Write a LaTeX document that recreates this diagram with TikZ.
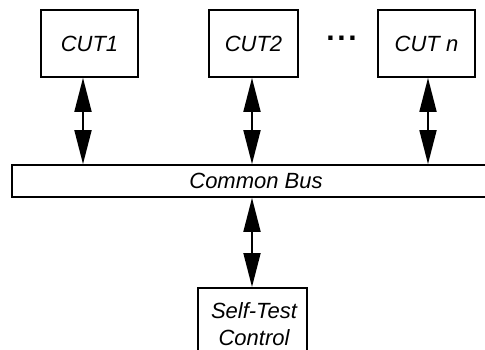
\documentclass[tikz,border=0pt]{standalone}
\usepackage{fontspec}
\setmainfont{Liberation Sans}
\usetikzlibrary{arrows.meta}
\begin{document}
\begin{tikzpicture}[x=1pt,y=-1pt,
  unit/.style={draw, line width=1.8pt, inner sep=0pt,
    font=\itshape\fontsize{22}{27}\selectfont},
  biarrow/.style={line width=1.8pt,
    {Triangle[length=34pt,width=17pt]}-{Triangle[length=34pt,width=17pt]}}]
  \useasboundingbox (0,0) rectangle (485,349);

  % circuits under test
  \node[unit, minimum width=97pt, minimum height=67pt] (cut1) at (89.5,43.5) {CUT1};
  \node[unit, minimum width=89pt, minimum height=67pt] (cut2) at (253.5,43.5) {CUT2};
  \node[unit, minimum width=97pt, minimum height=67pt] (cutn) at (426.5,43.5) {CUT \textit{n}};
  \node[font=\bfseries\fontsize{30}{30}\selectfont, inner sep=0pt, anchor=base]
    (dots) at (341.5,40) {.\kern2.7pt.\kern2.7pt.};

  % shared bus, running off the right edge
  \node[unit, minimum width=488pt, minimum height=32pt] (bus) at (256,181) {Common Bus};

  % self-test controller, cut off at the bottom
  \node[unit, minimum width=109pt, minimum height=80pt, anchor=north] (stc) at (252.5,287) {};
  \node[font=\itshape\fontsize{22}{27}\selectfont, align=center, inner sep=0pt,
    anchor=north] (stclabel) at (254,302) {Self-Test\\Control};

  % bidirectional links
  \draw[biarrow] (cut1.south -| 83,0) -- (bus.north -| 83,0);
  \draw[biarrow] (cut2.south -| 252,0) -- (bus.north -| 252,0);
  \draw[biarrow] (cutn.south -| 428,0) -- (bus.north -| 428,0);
  \draw[biarrow] (bus.south -| 252,0) -- (stc.north -| 252,0);
\end{tikzpicture}
\end{document}
